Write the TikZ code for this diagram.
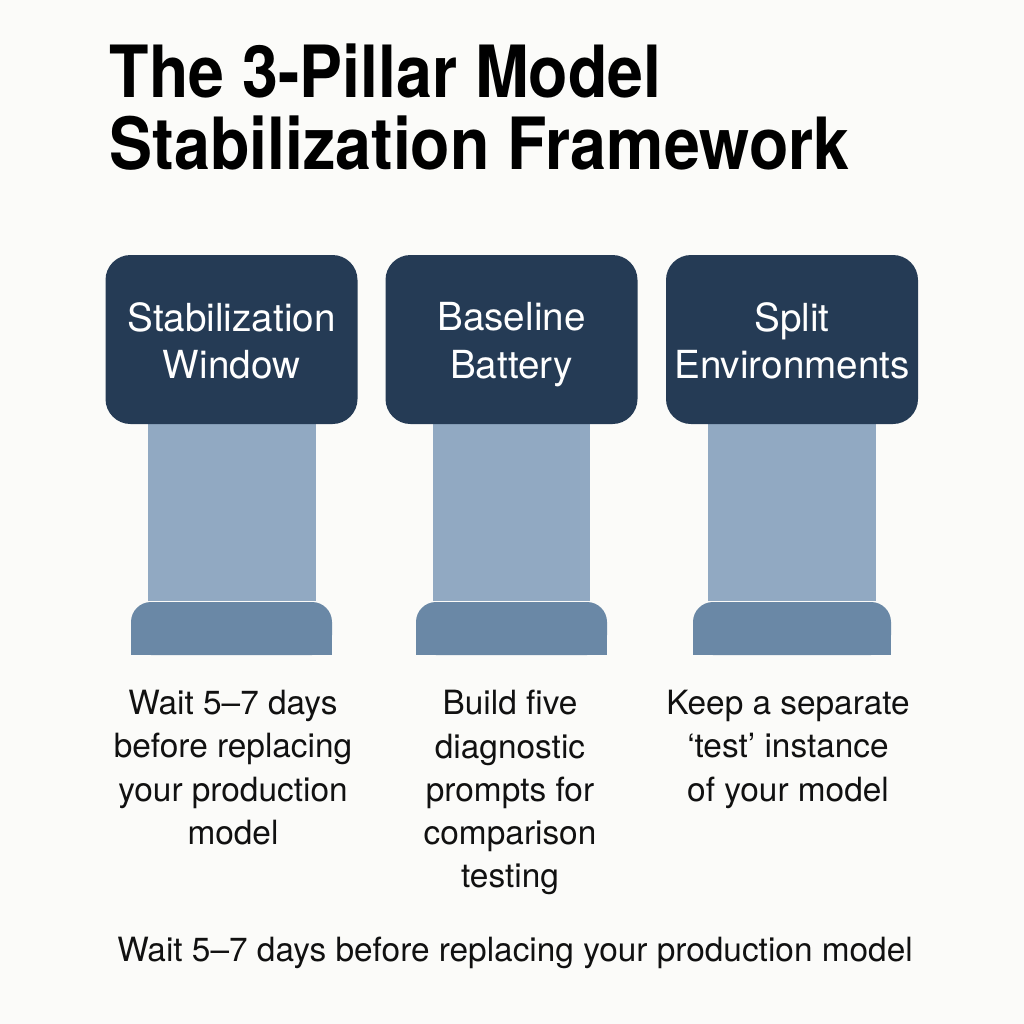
\documentclass[tikz,border=0pt]{standalone}
\usepackage{fontspec}
\setmainfont{TeX Gyre Heros}
\newfontfamily\titlefont[FakeStretch=0.895]{TeX Gyre Heros}
\usetikzlibrary{positioning}

\definecolor{paper}{HTML}{FBFBF9}
\definecolor{capblue}{HTML}{253B55}
\definecolor{shaftblue}{HTML}{91A9C2}
\definecolor{baseblue}{HTML}{6A88A6}
\definecolor{ink}{HTML}{111111}

\tikzset{
  pillarcap/.style={fill=capblue, rounded corners=0.25cm, minimum width=2.52cm,
    minimum height=1.69cm, inner sep=0pt},
  caplabel/.style={text=white, align=center, inner sep=0pt,
    font=\fontsize{11}{13.4}\selectfont,
    execute at begin node=\strut, execute at end node=\strut},
  shaft/.style={fill=shaftblue, minimum height=1.80cm, inner sep=0pt},
  note/.style={text=ink, align=center, font=\fontsize{9.5}{12.3}\selectfont},
}

\begin{document}
\begin{tikzpicture}
  \useasboundingbox[fill=paper] (0,0) rectangle (10.24,-10.24);

  % title
  \node[anchor=north west, align=left, inner sep=0pt, text=black,
    font=\titlefont\fontsize{20.5}{20.5}\bfseries\selectfont] (title) at (1.09,-0.43)
    {The 3-Pillar Model\\Stabilization Framework};

  % pillars: shaft, base, cap
  \foreach \name/\x/\w/\bw/\label in {stab/2.315/1.68/2.01/{Stabilization\\Window},
      base/5.115/1.57/1.91/{Baseline\\Battery},
      split/7.92/1.68/1.98/{Split\\Environments}} {
    \node[shaft, minimum width=\w cm, anchor=north] (\name-shaft) at (\x,-4.20) {};
    \fill[baseblue, rounded corners=0.2cm] (\x-\bw/2,-6.02) rectangle (\x+\bw/2,-6.55);
    \fill[baseblue] (\x-\bw/2,-6.3) rectangle (\x+\bw/2,-6.55);
    \node[pillarcap] (\name-cap) at (\x,-3.395) {};
    \node[caplabel] (\name-label) at ([yshift=-0.08cm]\name-cap.center) {\label};
  }

  % descriptions
  \node[note, anchor=north] (stab-note) at (2.33,-6.78)
    {Wait 5--7 days\\before replacing\\your production\\model};
  \node[note, anchor=north] (base-note) at (5.10,-6.78)
    {Build five\\diagnostic\\prompts for\\comparison\\testing};
  \node[note, anchor=north] (split-note) at (7.88,-6.78)
    {Keep a separate\\‘test’ instance\\of your model};

  % footer
  \node[note] (footer) at (5.15,-9.53)
    {Wait 5--7 days before replacing your production model};
\end{tikzpicture}
\end{document}
